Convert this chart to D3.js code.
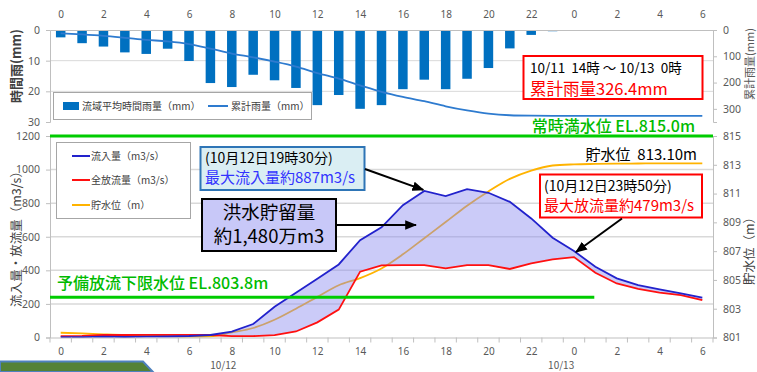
<!DOCTYPE html>
<html>
<head>
<meta charset="utf-8">
<script src="https://cdn.jsdelivr.net/npm/d3@7"></script>
<style>
  body { margin: 0; background: #fff; }
  svg { display: block; }
  text { font-family: "Noto Sans CJK JP", "Noto Sans", sans-serif; }
</style>
</head>
<body>
<svg id="chart" width="757" height="372"></svg>
<script>
// Hour categories: 10/12 0時 … 23時, then 10/13 0時 … 6時
const hourLabels = [0,1,2,3,4,5,6,7,8,9,10,11,12,13,14,15,16,17,18,19,20,21,22,23,0,1,2,3,4,5,6];

// 流域平均時間雨量 (mm)
const hourlyRain = [2.4,4.3,5.4,7.3,7.8,6.1,10.1,17.3,18.6,14.6,16.4,18.9,24.5,21.2,25.7,24.5,19.3,16.2,19.3,15.9,12.4,6.0,1.6,0.4,0,0,0,0,0,0,0];
// 累計雨量 (mm), counted from 10/11 14時
const cumulativeRain = [12.6,16.9,22.3,29.6,37.4,43.5,53.6,70.9,89.5,104.1,120.5,139.4,163.9,185.1,210.8,235.3,254.6,270.8,290.1,306.0,318.4,324.4,326.0,326.4,326.4,326.4,326.4,326.4,326.4,326.4,326.4];

// 流入量 (m3/s)
const inflow = [2,2,5,3,5,6,9,15,35,80,183,266,350,435,580,656,788,873,842,884,862,808,709,594,515,421,352,312,287,263,237];
// 全放流量 (m3/s)
const discharge = [8,10,15,15,16,16,16,15,8,8,14,36,90,166,392,430,431,431,412,431,431,408,441,465,479,386,322,289,267,253,223];
// 貯水位 (m)
const waterLevel = [801.33,801.28,801.22,801.17,801.15,801.10,801.06,801.08,801.35,801.66,802.23,803.0,803.82,804.63,805.13,805.8,806.78,807.9,809.02,810.16,811.15,812.02,812.6,812.95,813.03,813.06,813.08,813.09,813.1,813.1,813.1];

// Axis ticks
const rainTicks = [0,10,20,30];
const cumTicks = [0,100,200,300];
const flowTicks = [0,200,400,600,800,1000,1200];
const levelTicks = [801,803,805,807,809,811,813,815];
const dateLabels = ["10/12","10/13"];

// Reference levels and annotated values
const fullWaterLevel = 815.0;      // 常時満水位
const lowerLimitLevel = 803.8;     // 予備放流下限水位
const latestLevel = 813.10;
const totalRain = 326.4;
const peakInflow = 887;
const peakDischarge = 479;
const floodStorage = "約1,480万m3";

const svg = d3.select("#chart");
const L = 50, R = 713;
const n = hourLabels.length;
const idx = d3.range(n);

// Horizontal scales shared by both panels
const xb = d3.scaleBand().domain(idx).range([L, R]).paddingInner(0.556).paddingOuter(0.278);
const xh = d3.scaleLinear().domain([-0.5, n - 0.5]).range([L, R]);

// Upper panel scales (rain drawn downward)
const yRain = d3.scaleLinear().domain([0, 30]).range([30, 122]);
const yCum = d3.scaleLinear().domain([0, 350]).range([30, 122]);
// Lower panel scales
const yFlow = d3.scaleLinear().domain([0, 1200]).range([337.5, 136]);
const yLevel = d3.scaleLinear().domain([801, 815]).range([337.5, 136]);

const AX = "#BFBFBF", GRID = "#D9D9D9", TICK = "#595959";
const plain = d3.format("d");

function styleAxis(g, size) {
  g.select(".domain").attr("stroke", AX);
  g.selectAll(".tick line").attr("stroke", AX);
  g.selectAll(".tick text").attr("fill", TICK).style("font-size", (size || 10) + "px")
    .style("font-family", "'Noto Sans','Noto Sans CJK JP',sans-serif");
}

// arrow marker
svg.append("defs").append("marker")
  .attr("id", "arrow").attr("viewBox", "0 0 10 8").attr("refX", 9).attr("refY", 4)
  .attr("markerUnits", "userSpaceOnUse").attr("markerWidth", 12).attr("markerHeight", 10)
  .attr("orient", "auto")
  .append("path").attr("d", "M0,0L10,4L0,8Z").attr("fill", "#000");

/* ---------------- upper panel: rainfall ---------------- */
const rainPanel = svg.append("g");

rainPanel.append("g").selectAll("line").data([10, 20]).join("line")
  .attr("x1", L).attr("x2", R).attr("y1", d => yRain(d)).attr("y2", d => yRain(d))
  .attr("stroke", GRID).attr("stroke-width", 1);

rainPanel.append("g").selectAll("rect").data(idx).join("rect")
  .attr("x", i => xb(i)).attr("width", xb.bandwidth())
  .attr("y", yRain(0)).attr("height", i => yRain(hourlyRain[i]) - yRain(0))
  .attr("fill", "#0070C0");

rainPanel.append("path").datum(idx)
  .attr("d", d3.line().x(i => xh(i)).y(i => yCum(cumulativeRain[i])).curve(d3.curveMonotoneX))
  .attr("fill", "none").attr("stroke", "#2E7BCF").attr("stroke-width", 1.8);

rainPanel.append("g").attr("transform", `translate(0,${yRain(0)})`)
  .call(d3.axisTop(xh).tickValues(idx.filter(i => i % 2 === 0)).tickFormat(i => hourLabels[i]).tickSize(0).tickPadding(12))
  .call(g => styleAxis(g));

rainPanel.append("g").attr("transform", `translate(${L},0)`)
  .call(d3.axisLeft(yRain).tickValues(rainTicks).tickFormat(plain).tickSize(4).tickPadding(6))
  .call(g => styleAxis(g, 10.5));

rainPanel.append("g").attr("transform", `translate(${R},0)`)
  .call(d3.axisRight(yCum).tickValues(cumTicks).tickFormat(plain).tickSize(4).tickPadding(6))
  .call(g => styleAxis(g, 10.5));

// legend
const lg1 = rainPanel.append("g");
lg1.append("rect").attr("x", 53.5).attr("y", 92.5).attr("width", 258).attr("height", 27)
  .attr("fill", "#fff").attr("stroke", "#A6A6A6");
lg1.append("rect").attr("x", 63).attr("y", 102).attr("width", 16).attr("height", 8).attr("fill", "#0070C0");
lg1.append("text").attr("x", 82).attr("y", 110).style("font-size", "10px").attr("fill", "#404040").text("流域平均時間雨量（mm）");
lg1.append("line").attr("x1", 208).attr("x2", 228).attr("y1", 106).attr("y2", 106).attr("stroke", "#2E7BCF").attr("stroke-width", 2);
lg1.append("text").attr("x", 231).attr("y", 110).style("font-size", "10px").attr("fill", "#404040").text("累計雨量（mm）");

// total rainfall box
const rb = rainPanel.append("g");
rb.append("rect").attr("x", 523.5).attr("y", 56).attr("width", 179).attr("height", 43)
  .attr("fill", "#fff").attr("stroke", "#FF0000").attr("stroke-width", 2);
rb.append("text").attr("x", 530).attr("y", 72.5).style("font-size", "13.5px").style("white-space", "pre").attr("fill", "#000")
  .text("10/11  14時 ～ 10/13  0時");
rb.append("text").attr("x", 530).attr("y", 95).style("font-size", "16.5px").attr("fill", "#FF0000")
  .text(`累計雨量${totalRain}mm`);

/* ---------------- lower panel: flow and water level ---------------- */
const flowPanel = svg.append("g");

flowPanel.append("g").selectAll("line").data(flowTicks.filter(d => d > 0 && d < 1200)).join("line")
  .attr("x1", L).attr("x2", R).attr("y1", d => yFlow(d)).attr("y2", d => yFlow(d))
  .attr("stroke", GRID).attr("stroke-width", 1.5);

// reservoir level
flowPanel.append("path").datum(idx)
  .attr("d", d3.line().x(i => xh(i)).y(i => yLevel(waterLevel[i])).curve(d3.curveMonotoneX))
  .attr("fill", "none").attr("stroke", "#FFB300").attr("stroke-width", 1.8);

// stored flood volume: band between inflow and discharge
flowPanel.append("path").datum(idx.filter(i => i >= 7))
  .attr("d", d3.area().x(i => xh(i))
    .y0(i => yFlow(discharge[i]))
    .y1(i => yFlow(Math.max(inflow[i], discharge[i]))))
  .attr("fill", "rgba(140,140,240,0.45)");

flowPanel.append("path").datum(idx)
  .attr("d", d3.line().x(i => xh(i)).y(i => yFlow(discharge[i])))
  .attr("fill", "none").attr("stroke", "#FF1010").attr("stroke-width", 1.8);

flowPanel.append("path").datum(idx)
  .attr("d", d3.line().x(i => xh(i)).y(i => yFlow(inflow[i])))
  .attr("fill", "none").attr("stroke", "#2222CC").attr("stroke-width", 1.8);

// axes
flowPanel.append("g").attr("transform", `translate(0,${yFlow(0)})`)
  .call(d3.axisBottom(xh).tickValues(idx.filter(i => i % 2 === 0)).tickFormat(i => hourLabels[i]).tickSize(0).tickPadding(10))
  .call(g => styleAxis(g));
flowPanel.append("g").selectAll("line").data(d3.range(n + 1)).join("line")
  .attr("x1", i => xh(i - 0.5)).attr("x2", i => xh(i - 0.5))
  .attr("y1", yFlow(0)).attr("y2", yFlow(0) + 5).attr("stroke", AX);
flowPanel.append("g").selectAll("text").data(dateLabels).join("text")
  .attr("x", (d, k) => xh(k === 0 ? 7.6 : 23.4)).attr("y", 369)
  .attr("text-anchor", "middle").style("font-size", "10px").attr("fill", TICK).text(d => d);

flowPanel.append("g").attr("transform", `translate(${L},0)`)
  .call(d3.axisLeft(yFlow).tickValues(flowTicks).tickFormat(plain).tickSize(4).tickPadding(6))
  .call(g => styleAxis(g, 10.5));
flowPanel.append("g").attr("transform", `translate(${R},0)`)
  .call(d3.axisRight(yLevel).tickValues(levelTicks).tickFormat(plain).tickSize(4).tickPadding(6))
  .call(g => styleAxis(g, 10.5));

// reference levels
flowPanel.append("line").attr("x1", L).attr("x2", R).attr("y1", yLevel(fullWaterLevel)).attr("y2", yLevel(fullWaterLevel))
  .attr("stroke", "#00CC00").attr("stroke-width", 3);
flowPanel.append("text").attr("x", 695).attr("y", 132).attr("text-anchor", "end")
  .style("font-size", "16px").attr("font-weight", 500).attr("fill", "#00BB00")
  .text(`常時満水位 EL.${fullWaterLevel.toFixed(1)}m`);

flowPanel.append("line").attr("x1", L).attr("x2", xh(24.95)).attr("y1", yLevel(lowerLimitLevel)).attr("y2", yLevel(lowerLimitLevel))
  .attr("stroke", "#00CC00").attr("stroke-width", 3);
flowPanel.append("text").attr("x", 57).attr("y", 289)
  .style("font-size", "16px").attr("font-weight", 500).attr("fill", "#00BB00")
  .text(`予備放流下限水位 EL.${lowerLimitLevel.toFixed(1)}m`);

flowPanel.append("text").attr("x", 697).attr("y", 160).attr("text-anchor", "end")
  .style("font-size", "15px").style("white-space", "pre").attr("fill", "#000")
  .text(`貯水位  ${latestLevel.toFixed(2)}m`);

// legend
const lg2 = flowPanel.append("g");
lg2.append("rect").attr("x", 56.5).attr("y", 142.5).attr("width", 134).attr("height", 76)
  .attr("fill", "#fff").attr("stroke", "#A6A6A6");
[["流入量（m3/s）", "#2222CC", 156], ["全放流量（m3/s）", "#FF1010", 180], ["貯水位（m）", "#FFB300", 205]]
  .forEach(([t, c, y]) => {
    lg2.append("line").attr("x1", 72).attr("x2", 90).attr("y1", y).attr("y2", y).attr("stroke", c).attr("stroke-width", 2);
    lg2.append("text").attr("x", 91).attr("y", y + 3.5).style("font-size", "10px").attr("fill", "#404040").text(t);
  });

// peak inflow callout
const c1 = flowPanel.append("g");
c1.append("rect").attr("x", 200.5).attr("y", 147).attr("width", 164).attr("height", 43)
  .attr("fill", "#DAEEF3").attr("stroke", "#2E75B6").attr("stroke-width", 2);
c1.append("text").attr("x", 205).attr("y", 162.5).style("font-size", "14px").attr("fill", "#000").text("(10月12日19時30分)");
c1.append("text").attr("x", 205).attr("y", 182.5).style("font-size", "15px").attr("fill", "#3333FF").text(`最大流入量約${peakInflow}m3/s`);
c1.append("line").attr("x1", 365).attr("y1", 169).attr("x2", xh(17) - 1).attr("y2", yFlow(inflow[17]) - 1)
  .attr("stroke", "#000").attr("stroke-width", 2).attr("marker-end", "url(#arrow)");

// flood storage callout
const c2 = flowPanel.append("g");
c2.append("rect").attr("x", 202).attr("y", 199).attr("width", 134).attr("height", 52)
  .attr("fill", "#C8C8F8").attr("stroke", "#000").attr("stroke-width", 2);
c2.append("text").attr("x", 269).attr("y", 218.5).attr("text-anchor", "middle").style("font-size", "18.5px").attr("fill", "#000").text("洪水貯留量");
c2.append("text").attr("x", 269).attr("y", 243).attr("text-anchor", "middle").style("font-size", "18.5px").attr("fill", "#000").text(floodStorage);
c2.append("line").attr("x1", 337).attr("y1", 225).attr("x2", 416).attr("y2", 225)
  .attr("stroke", "#000").attr("stroke-width", 2).attr("marker-end", "url(#arrow)");

// peak discharge callout
const c3 = flowPanel.append("g");
c3.append("rect").attr("x", 540).attr("y", 174.5).attr("width", 162).attr("height", 43)
  .attr("fill", "#fff").attr("stroke", "#FF0000").attr("stroke-width", 2);
c3.append("text").attr("x", 544).attr("y", 190.5).style("font-size", "14px").attr("fill", "#000").text("(10月12日23時50分)");
c3.append("text").attr("x", 544).attr("y", 210.5).style("font-size", "15px").attr("fill", "#FF0000").text(`最大放流量約${peakDischarge}m3/s`);
c3.append("line").attr("x1", 622).attr("y1", 218.5).attr("x2", xh(24) + 2).attr("y2", yFlow(inflow[24]) + 1)
  .attr("stroke", "#000").attr("stroke-width", 2).attr("marker-end", "url(#arrow)");

/* ---------------- axis titles ---------------- */
function vTitle(txt, cx, cy, size, color, weight) {
  svg.append("text").attr("transform", `translate(${cx},${cy}) rotate(-90)`)
    .attr("text-anchor", "middle").attr("dominant-baseline", "central")
    .style("font-size", size + "px").attr("font-weight", weight || 400).attr("fill", color).text(txt);
}
vTitle("時間雨(mm)", 15, 66, 13, "#404040", 700);
vTitle("累計雨量(mm)", 748.5, 64, 11, "#595959");
vTitle("流入量・放流量（m3/s）", 15, 236, 12.5, "#404040");
vTitle("貯水位（m）", 748, 248, 12.5, "#404040");

// corner band
svg.append("path").attr("d", "M0,361.5L143,361.5L153,372L0,372Z")
  .attr("fill", "#548235").attr("stroke", "#4F81BD").attr("stroke-width", 2);
</script>
</body>
</html>
